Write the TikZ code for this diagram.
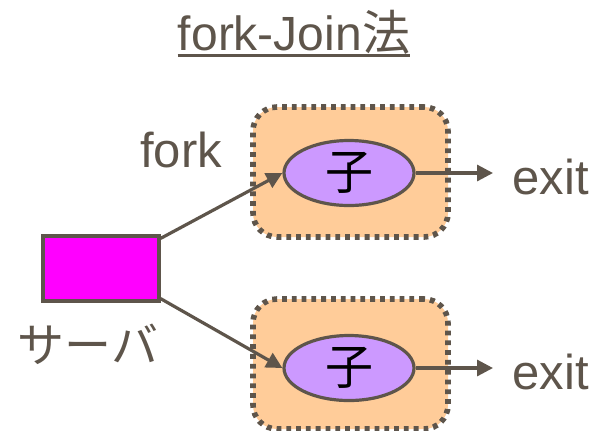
\documentclass[tikz,border=0pt]{standalone}
\usepackage{fontspec}
\setmainfont{Liberation Sans}
\newfontfamily\jpfont{Noto Sans CJK JP}
\usetikzlibrary{positioning,arrows.meta,shapes.geometric}

\definecolor{ink}{HTML}{5E554B}
\definecolor{peach}{HTML}{FFCC99}
\definecolor{lilac}{HTML}{CC99FF}
\definecolor{pink}{HTML}{FF00FF}

\tikzset{
  procbox/.style={draw=ink, fill=peach, line width=2.8pt, rounded corners=12pt,
    dash pattern=on 2.4pt off 2.5pt, minimum width=97.5pt, minimum height=65pt},
  child/.style={ellipse, draw=ink, fill=lilac, line width=1.6pt,
    minimum width=65pt, minimum height=32.5pt, inner sep=0pt, font=\jpfont\fontsize{24}{26}\selectfont},
  server/.style={draw=ink, fill=pink, line width=1.6pt,
    minimum width=58pt, minimum height=32.5pt, inner sep=0pt},
  lbl/.style={text=ink, inner sep=0pt},
  arr/.style={draw=ink, line width=1.6pt, -{Triangle[length=8pt,width=8pt]}}
}

\begin{document}
\begin{tikzpicture}[x=0.5pt, y=-0.5pt, font=\fontsize{24.5}{28}\selectfont]
\useasboundingbox (0,0) rectangle (593,430);

% title
\node[lbl, anchor=base, font=\fontsize{24}{28}\selectfont] (title) at (294,50) {fork-Join{\jpfont 法}};
\draw[ink, line width=1.5pt] ([yshift=-2.5pt]title.base west) -- ([yshift=-2.5pt]title.base east);

% two children
\node[procbox] (box1) at (350.5,172) {};
\node[procbox] (box2) at (350.5,364) {};
\node[child] (kid1) at (349,173) {子};
\node[child] (kid2) at (349,368) {子};

\node[server] (srv) at (101,268.5) {};
\node[lbl, font=\jpfont\fontsize{23.5}{26}\selectfont] (srvlbl) at (88,344) {サーバ};
\node[lbl] (forklbl) at (181,150) {fork};

\node[lbl, anchor=west] (exit1) at (512,177) {exit};
\node[lbl, anchor=west] (exit2) at (512,372) {exit};

% fork and exit
\draw[arr] ([yshift=-2pt]srv.north east) -- (kid1.west);
\draw[arr] ([yshift=2pt]srv.south east) -- (kid2.west);
\draw[arr, shorten >=9.5pt] (kid1.east) -- (kid1.east -| exit1.west);
\draw[arr, shorten >=9.5pt] (kid2.east) -- (kid2.east -| exit2.west);
\end{tikzpicture}
\end{document}
